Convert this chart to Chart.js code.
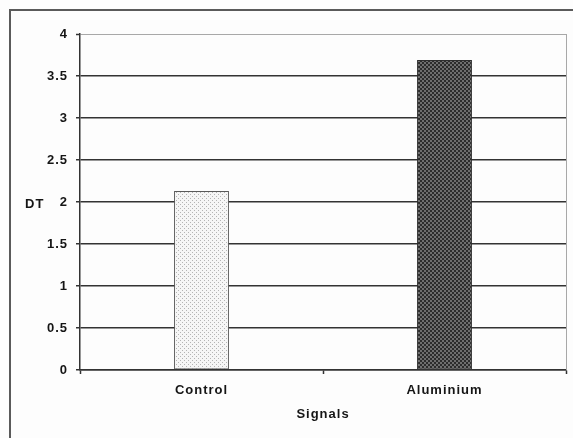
<!DOCTYPE html>
<html>
<head>
<meta charset="utf-8">
<script src="https://cdn.jsdelivr.net/npm/chart.js@4/dist/chart.umd.min.js"></script>
<style>
  html, body { margin: 0; padding: 0; background: #fdfdfd; }
  #wrap { position: relative; width: 573px; height: 438px; overflow: hidden; }
  #frame { position: absolute; left: 9px; top: 9px; width: 600px; height: 500px;
           border-left: 2px solid #5a5a5a; border-top: 2px solid #5a5a5a; }
  canvas { position: absolute; left: 0; top: 0; }
</style>
</head>
<body>
<div id="wrap">
  <div id="frame"></div>
  <canvas id="c" width="573" height="438"></canvas>
</div>
<script>
// ---- data ----
const categories = ['Control', 'Aluminium'];
const dtValues = [2.13, 3.69];
const yTickLabels = ['0', '0.5', '1', '1.5', '2', '2.5', '3', '3.5', '4'];
const xTitle = 'Signals';
const yTitle = 'DT';

// ---- fill patterns ----
function makePattern(size, bg, fg, cells) {
  const p = document.createElement('canvas');
  p.width = size; p.height = size;
  const g = p.getContext('2d');
  g.fillStyle = bg; g.fillRect(0, 0, size, size);
  g.fillStyle = fg;
  cells.forEach(c => g.fillRect(c[0], c[1], c[2], c[3]));
  return document.getElementById('c').getContext('2d').createPattern(p, 'repeat');
}
const dotted = makePattern(4, '#f6f6f6', '#b4b4b4', [[0,0,1,1],[2,2,1,1]]);
const checker = makePattern(4, '#6e6e6e', '#2c2c2c', [[0,0,2,2],[2,2,2,2]]);

const FONT = { family: 'Arial, "Liberation Sans", sans-serif', size: 13, weight: 'bold' };
const TEXT = '#151515';

const decor = {
  id: 'decor',
  beforeDraw(chart) {
    chart.ctx.letterSpacing = '1px';
  },
  afterDraw(chart) {
    const { ctx, chartArea } = chart;
    ctx.save();
    // right plot border
    ctx.strokeStyle = '#a8a8a8';
    ctx.lineWidth = 1;
    ctx.beginPath();
    ctx.moveTo(Math.round(chartArea.right) + 0.5, chartArea.top);
    ctx.lineTo(Math.round(chartArea.right) + 0.5, chartArea.bottom);
    ctx.stroke();
    // horizontal y-axis title
    const y = chart.scales.y.getPixelForValue(2);
    ctx.font = 'bold 13px Arial, "Liberation Sans", sans-serif';
    ctx.letterSpacing = '1px';
    ctx.fillStyle = TEXT;
    ctx.textAlign = 'left';
    ctx.textBaseline = 'middle';
    ctx.fillText(yTitle, 25, y + 2);
    ctx.restore();
  }
};

new Chart(document.getElementById('c'), {
  type: 'bar',
  data: {
    labels: categories,
    datasets: [{
      data: dtValues,
      backgroundColor: [dotted, checker],
      borderColor: ['#5a5a5a', '#2e2e2e'],
      borderWidth: 1,
      borderSkipped: false,
      categoryPercentage: 1,
      barPercentage: 0.226
    }]
  },
  options: {
    responsive: false,
    animation: false,
    devicePixelRatio: 1,
    layout: { padding: { left: 10, right: 7, top: 34, bottom: 0 } },
    plugins: { legend: { display: false }, tooltip: { enabled: false } },
    scales: {
      x: {
        afterFit(s) { s.height = 68; },
        grid: { offset: true, drawOnChartArea: false, tickLength: 4, tickColor: '#333', tickWidth: 1.5 },
        border: { color: '#333', width: 1.5 },
        ticks: { color: TEXT, font: FONT, padding: 9 },
        title: { display: true, text: xTitle, color: TEXT, font: FONT, padding: { top: 0, bottom: 16 } }
      },
      y: {
        min: 0, max: 4,
        afterFit(s) { s.width = 70; },
        grid: {
          color: c => (c.tick && c.tick.value === 4) ? '#a8a8a8' : '#333',
          lineWidth: c => (c.tick && c.tick.value === 4) ? 1 : 1.5,
          tickLength: 4, tickColor: '#333', tickWidth: 1.5
        },
        border: { color: '#333', width: 1.5 },
        ticks: {
          stepSize: 0.5, color: TEXT, font: FONT, padding: 8,
          callback: (v, i) => yTickLabels[i]
        }
      }
    }
  },
  plugins: [decor]
});
</script>
</body>
</html>
